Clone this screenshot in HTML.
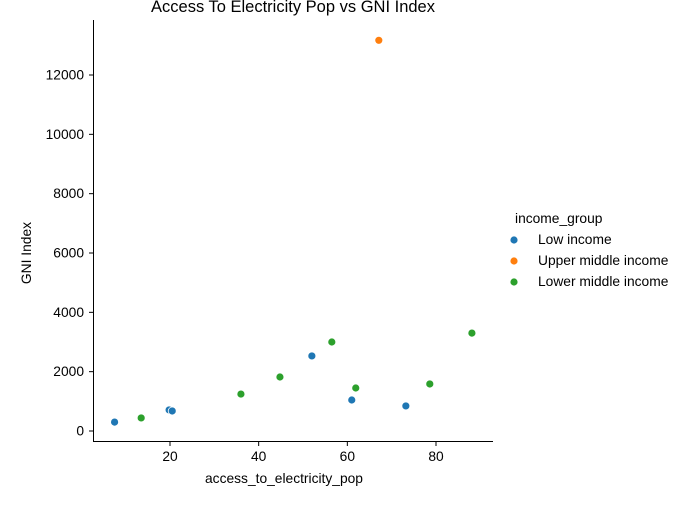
<!DOCTYPE html>
<html><head><meta charset="utf-8"><style>
body{margin:0;background:#fff;width:699px;height:500px;overflow:hidden}
svg text{font-family:"Liberation Sans",sans-serif;fill:#000}
</style></head><body>
<svg id="chart" width="699" height="500">
<text x="293" y="12" font-size="16.5" text-anchor="middle">Access To Electricity Pop vs GNI Index</text>
<g id="axes"></g>
<g id="points"></g>
<text x="284" y="483" font-size="13.8" text-anchor="middle">access_to_electricity_pop</text>
<text transform="translate(31,253) rotate(-90)" font-size="13.8" text-anchor="middle">GNI Index</text>
<g>
<text x="515" y="223" font-size="13.8">income_group</text>
<circle cx="514" cy="240" r="3.6" fill="#1f77b4"/><text x="538" y="244" font-size="13.8">Low income</text>
<circle cx="514" cy="261" r="3.6" fill="#ff7f0e"/><text x="538" y="265" font-size="13.8">Upper middle income</text>
<circle cx="514" cy="282" r="3.6" fill="#2ca02c"/><text x="538" y="286" font-size="13.8">Lower middle income</text>
</g>
</svg>
<script>
const xValues=[7.5,19.8,20.5,52.0,61.0,73.2,67.1,13.5,36.0,44.8,56.5,61.9,78.6,88.1];
const yValues=[300,710,675,2530,1045,845,13170,440,1245,1820,3000,1450,1585,3300];
const groups=["Low income","Low income","Low income","Low income","Low income","Low income","Upper middle income","Lower middle income","Lower middle income","Lower middle income","Lower middle income","Lower middle income","Lower middle income","Lower middle income"];
const xTicks=[20,40,60,80];
const yTicks=[0,2000,4000,6000,8000,10000,12000];
const colors={"Low income":"#1f77b4","Upper middle income":"#ff7f0e","Lower middle income":"#2ca02c"};
const NS="http://www.w3.org/2000/svg";
const X=v=>170+(v-20)*(436-170)/60;
const Y=v=>431-v*(431-75)/12000;
const ax=document.getElementById('axes'),pts=document.getElementById('points');
function mk(t,a,p){const e=document.createElementNS(NS,t);for(const k in a)e.setAttribute(k,a[k]);p.appendChild(e);return e;}
const ls=mk('line',{x1:93.5,y1:20,x2:93.5,y2:441.5,stroke:'#000','stroke-width':1},ax);


const bs=mk('line',{x1:93,y1:441.5,x2:493,y2:441.5,stroke:'#000','stroke-width':1},ax);


xTicks.forEach(t=>{const x=X(t);mk('line',{x1:x,y1:441.5,x2:x,y2:446,stroke:'#000'},ax);
const tx=mk('text',{x:x,y:461,'font-size':13.8,'text-anchor':'middle'},ax);tx.textContent=t;

});
yTicks.forEach(t=>{const y=Y(t);mk('line',{x1:89,y1:y,x2:93.5,y2:y,stroke:'#000'},ax);
const tx=mk('text',{x:84,y:y+4.5,'font-size':13.8,'text-anchor':'end'},ax);tx.textContent=t;

});
xValues.forEach((v,i)=>{const c=mk('circle',{cx:X(v),cy:Y(yValues[i]),r:4,fill:colors[groups[i]],stroke:'#fff','stroke-width':0.8},pts);

});
</script>
</body></html>
